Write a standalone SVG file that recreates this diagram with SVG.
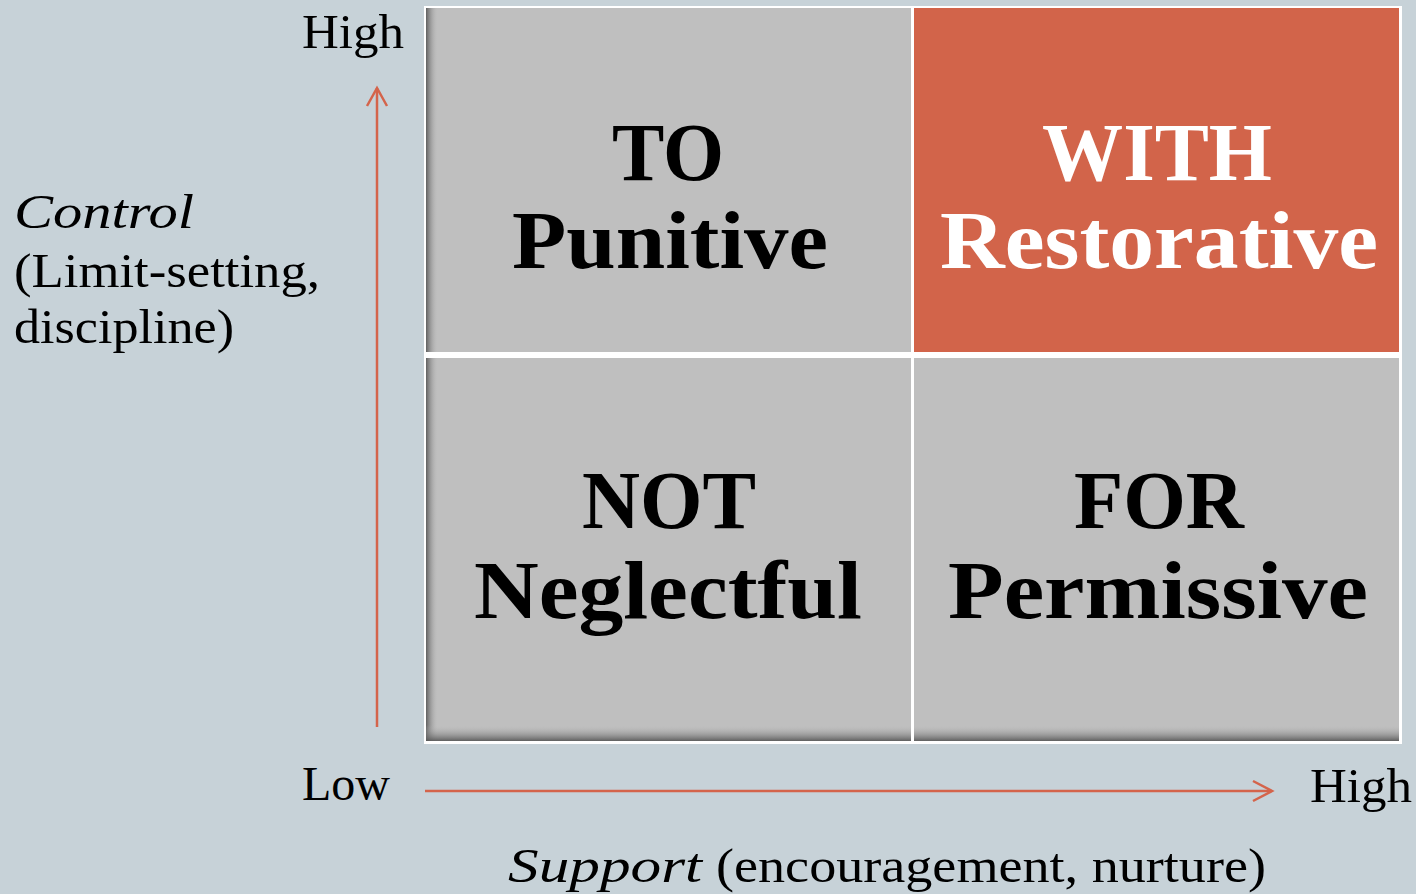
<svg xmlns="http://www.w3.org/2000/svg" width="1416" height="894" viewBox="0 0 1416 894">
<style>
.ax{font-family:"Liberation Serif",Georgia,serif;font-size:48px;fill:#000}
.it{font-style:italic}
.big{font-family:"Liberation Serif",Georgia,serif;font-size:82px;font-weight:bold;text-anchor:middle}
.arrow{stroke:#d4644b;stroke-width:2.5;fill:none}
</style>
<defs>
<linearGradient id="shL" x1="0" y1="0" x2="1" y2="0">
<stop offset="0" stop-color="#555555" stop-opacity="0.9"/>
<stop offset="0.4" stop-color="#7a7a7a" stop-opacity="0.5"/>
<stop offset="1" stop-color="#bfbfbf" stop-opacity="0"/>
</linearGradient>
<linearGradient id="shB" x1="0" y1="1" x2="0" y2="0">
<stop offset="0" stop-color="#555555" stop-opacity="0.9"/>
<stop offset="0.4" stop-color="#7a7a7a" stop-opacity="0.5"/>
<stop offset="1" stop-color="#bfbfbf" stop-opacity="0"/>
</linearGradient>
</defs>
<rect width="1416" height="894" fill="#c7d2d8"/>
<rect x="424" y="6" width="978" height="738" fill="#ffffff"/>
<g id="cell-to">
<rect x="426" y="8" width="485" height="344" fill="#bfbfbf"/>
<rect x="426" y="8" width="12" height="344" fill="url(#shL)"/>
<text class="big" x="668" y="180" textLength="112" lengthAdjust="spacingAndGlyphs">TO</text>
<text class="big" x="670" y="268" textLength="316" lengthAdjust="spacingAndGlyphs">Punitive</text>
</g>
<g id="cell-with">
<rect x="914" y="8" width="485" height="344" fill="#d2644a"/>
<text class="big" x="1157" y="180" fill="#ffffff" textLength="230" lengthAdjust="spacingAndGlyphs">WITH</text>
<text class="big" x="1159" y="268" fill="#ffffff" textLength="438" lengthAdjust="spacingAndGlyphs">Restorative</text>
</g>
<g id="cell-not">
<rect x="426" y="358" width="485" height="383" fill="#bfbfbf"/>
<rect x="426" y="358" width="12" height="383" fill="url(#shL)"/>
<rect x="426" y="725" width="485" height="16" fill="url(#shB)"/>
<text class="big" x="669" y="528" textLength="174" lengthAdjust="spacingAndGlyphs">NOT</text>
<text class="big" x="668" y="618" textLength="388" lengthAdjust="spacingAndGlyphs">Neglectful</text>
</g>
<g id="cell-for">
<rect x="914" y="358" width="485" height="383" fill="#bfbfbf"/>
<rect x="914" y="725" width="485" height="16" fill="url(#shB)"/>
<text class="big" x="1159" y="528" textLength="170" lengthAdjust="spacingAndGlyphs">FOR</text>
<text class="big" x="1158" y="618" textLength="420" lengthAdjust="spacingAndGlyphs">Permissive</text>
</g>
<g id="connectors">
<line class="arrow" x1="377" y1="727" x2="377" y2="88"/>
<polyline class="arrow" points="367,106 377,88 387,106"/>
<line class="arrow" x1="425" y1="791" x2="1272" y2="791"/>
<polyline class="arrow" points="1253,781 1272,791 1253,801"/>
</g>
<g id="labels">
<text class="ax" x="302" y="48" textLength="102" lengthAdjust="spacingAndGlyphs">High</text>
<text class="ax" x="302" y="800" textLength="88" lengthAdjust="spacingAndGlyphs">Low</text>
<text class="ax" x="1310" y="802" textLength="102" lengthAdjust="spacingAndGlyphs">High</text>
<text class="ax it" x="14" y="228" textLength="180" lengthAdjust="spacingAndGlyphs">Control</text>
<text class="ax" x="14" y="287" textLength="306" lengthAdjust="spacingAndGlyphs">(Limit-setting,</text>
<text class="ax" x="14" y="343" textLength="220" lengthAdjust="spacingAndGlyphs">discipline)</text>
<text class="ax" x="508" y="882"><tspan class="it" textLength="194" lengthAdjust="spacingAndGlyphs">Support</tspan><tspan x="716" textLength="550" lengthAdjust="spacingAndGlyphs">(encouragement, nurture)</tspan></text>
</g>
</svg>
